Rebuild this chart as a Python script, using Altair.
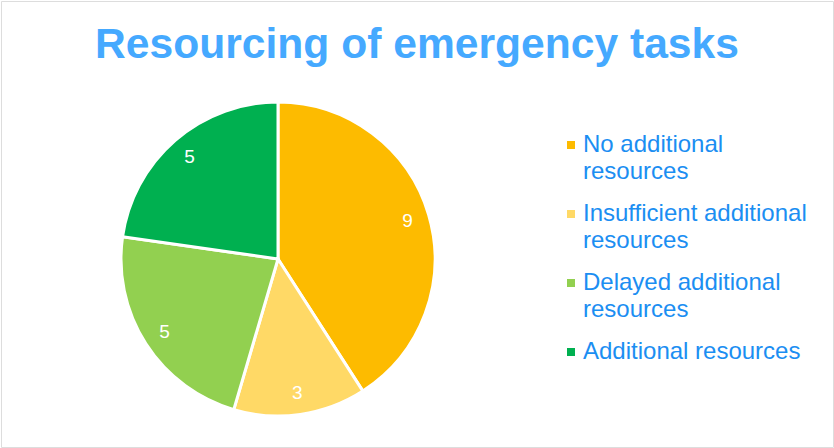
import altair as alt
import pandas as pd

categories = ["No additional resources", "Insufficient additional resources",
              "Delayed additional resources", "Additional resources"]
values = [9, 3, 5, 5]
colors = ["#FDBB00", "#FFD966", "#92D050", "#00B050"]

df = pd.DataFrame({"category": categories, "value": values, "order": list(range(len(values)))})

cx, cy = 277, 258

base = alt.Chart(df).encode(
    theta=alt.Theta("value:Q", stack=True),
    order=alt.Order("order:Q"),
)

pie = base.mark_arc(outerRadius=157, stroke="white", strokeWidth=3).encode(
    x=alt.value(cx), y=alt.value(cy),
    color=alt.Color(
        "category:N",
        sort=categories,
        scale=alt.Scale(domain=categories, range=colors),
        legend=alt.Legend(
            title=None,
            orient="none",
            legendX=558,
            legendY=132,
            symbolType="square",
            symbolSize=64,
            symbolStrokeWidth=0,
            labelFontSize=24,
            labelFont="Liberation Sans",
            labelColor="#1B8EF2",
            labelLimit=400,
            labelOffset=0,
            labelBaseline="middle",
            rowPadding=18,
            labelExpr="datum.label == 'Additional resources' ? datum.label : [substring(datum.label, 0, lastindexof(datum.label, ' ')), 'resources']",
        ),
    ),
)

labels = base.mark_text(radius=135, fontSize=19, font="Liberation Sans", color="white").encode(
    x=alt.value(cx), y=alt.value(cy),
    text=alt.Text("value:Q"),
)

chart = (pie + labels).properties(
    width=832,
    height=446,
    padding=1,
    autosize=alt.AutoSizeParams(type="none"),
    title=alt.TitleParams(
        "Resourcing of emergency tasks",
        fontSize=42.6,
        font="Liberation Sans",
        fontWeight="bold",
        color="#45A9FF",
        anchor="middle",
        baseline="alphabetic",
        offset=-100,
    ),
).configure_view(stroke="#CDE4F8", strokeWidth=2).configure(
    style={"guide-label": {"lineHeight": 27}}
)

chart.save("out.html", embed_options={"renderer": "svg", "actions": False})
